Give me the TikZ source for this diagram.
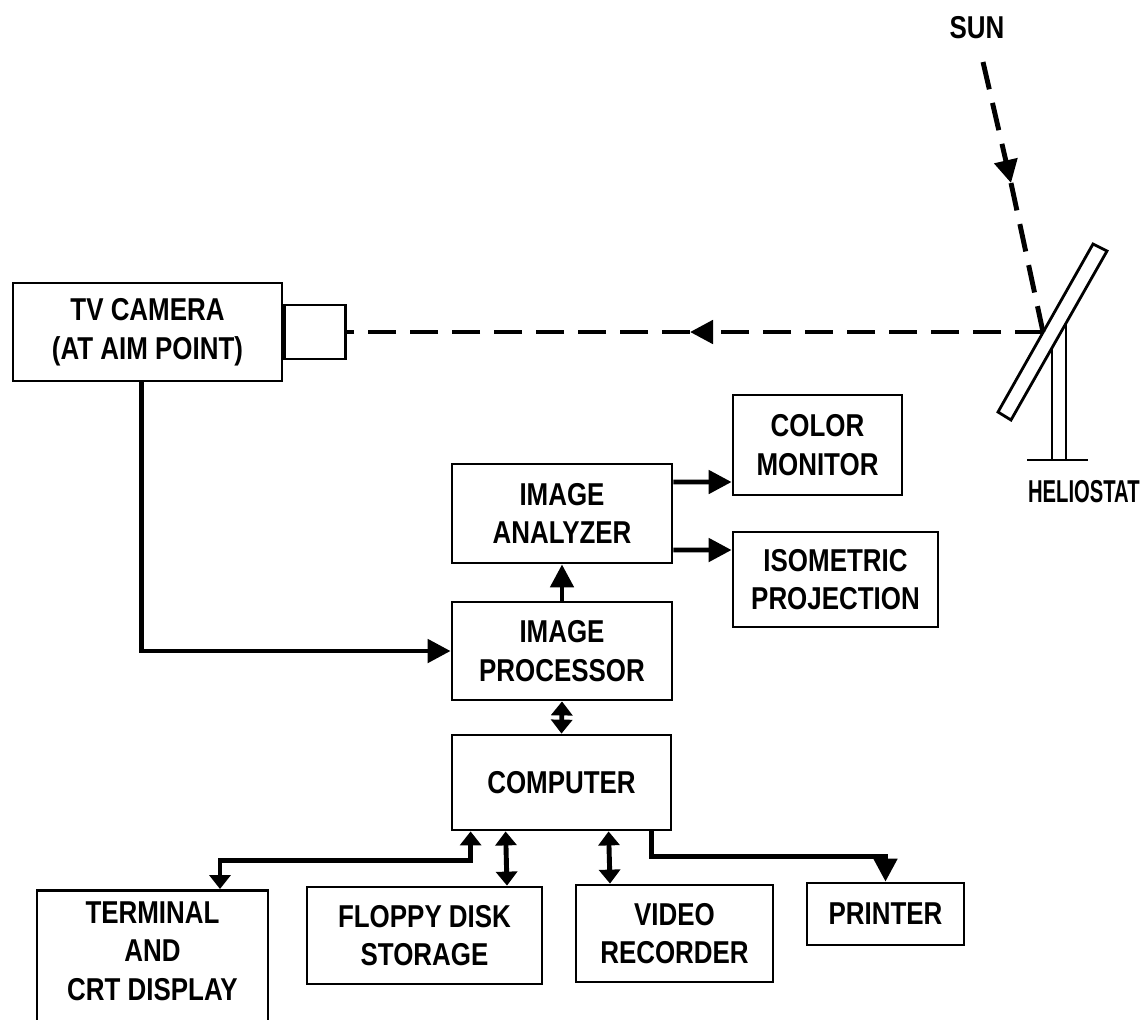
\documentclass[tikz,border=0pt]{standalone}
\usepackage{fontspec}
\setmainfont{Liberation Sans}[FakeStretch=0.82]
\usetikzlibrary{arrows.meta, positioning}

\begin{document}
\begin{tikzpicture}[
x=0.02cm, y=-0.02cm,
font=\fontsize{18}{22}\selectfont\bfseries,
box/.style={rectangle, draw, line width=1.6pt, align=center, inner sep=0pt},
arrow/.style={-{Triangle[length=0.46cm, width=0.46cm]}, line width=2.8pt},
dblarrow/.style={{Triangle[length=0.28cm, width=0.42cm]}-{Triangle[length=0.28cm, width=0.42cm]}, line width=2.8pt},
beam/.style={line width=2.8pt, dash pattern=on 0.56cm off 0.28cm}
]
\useasboundingbox (0,0) rectangle (1142,1019);

\node[box, minimum width=5.38cm, minimum height=1.96cm] (camera) at (147.5,332) {TV CAMERA\\(AT AIM POINT)};
\node[box, minimum width=1.22cm, minimum height=1.08cm, anchor=west] (lens) at (camera.east) {};
\node[box, minimum width=4.4cm, minimum height=1.98cm] (analyzer) at (562,513.5) {IMAGE\\ANALYZER};
\node[box, minimum width=4.4cm, minimum height=1.96cm] (processor) at (562,651) {IMAGE\\PROCESSOR};
\node[box, minimum width=3.38cm, minimum height=2cm] (colormon) at (817.5,445) {COLOR\\MONITOR};
\node[box, minimum width=4.1cm, minimum height=1.9cm] (isometric) at (835.5,579.5) {ISOMETRIC\\PROJECTION};
\node[box, minimum width=4.38cm, minimum height=1.9cm] (computer) at (561.5,782.5) {COMPUTER};
\node[box, minimum width=4.62cm, minimum height=3.2cm, anchor=north] (terminal) at (152.5,889) {};
\node[align=center] (terminaltext) at (152.5,951) {TERMINAL\\AND\\CRT DISPLAY};
\node[box, minimum width=4.7cm, minimum height=1.94cm] (floppy) at (424.5,935.5) {FLOPPY DISK\\STORAGE};
\node[box, minimum width=3.94cm, minimum height=1.94cm] (video) at (674.5,933.5) {VIDEO\\RECORDER};
\node[box, minimum width=3.14cm, minimum height=1.24cm] (printer) at (885.5,914) {PRINTER};

\node (sun) at (977,28) {SUN};
\node[anchor=east, inner sep=0pt] (heliostat) at (1140,492) {\scalebox{0.78}[1]{HELIOSTAT}};

\coordinate (sunstart) at (983,62);
\coordinate (sunmid) at (1011,183);
\coordinate (hit) at (1043,332);
\coordinate (beammid) at (690,332);

\draw[line width=1.6pt] (998,412) -- (1093,244) -- (1107,251) -- (1011,420) -- cycle;
\draw[line width=1.4pt] (1052,348) -- (1052,460);
\draw[line width=1.4pt] (1066,323) -- (1066,460);
\draw[line width=1.6pt] (1027,460) -- (1088,460);

\draw[arrow, beam] (sunstart) -- (sunmid);
\draw[beam] (sunmid) -- (hit);
\draw[arrow, beam] (hit) -- (beammid);
\draw[beam] (beammid) -- (lens.east);

\draw[arrow] ([xshift=2.6cm]camera.south west) |- (processor.west);
\draw[arrow] (processor.north) -- (analyzer.south);
\draw[arrow] ([yshift=0.63cm]analyzer.east) -- ([yshift=-0.74cm]colormon.west);
\draw[arrow] ([yshift=-0.73cm]analyzer.east) -- ([yshift=0.59cm]isometric.west);
\draw[dblarrow] (processor.south) -- (computer.north);
\draw[dblarrow] ([xshift=0.4cm]computer.south west) -- ++(0,29) -| ([xshift=1.35cm]terminal.north);
\draw[dblarrow] ([xshift=1.1cm]computer.south west) -- ([xshift=1.65cm]floppy.north);
\draw[dblarrow] ([xshift=3.16cm]computer.south west) -- ([xshift=-1.29cm]video.north);
\draw[arrow] ([xshift=-0.42cm]computer.south east) -- ++(0,25) -| (printer.north);

\end{tikzpicture}
\end{document}
